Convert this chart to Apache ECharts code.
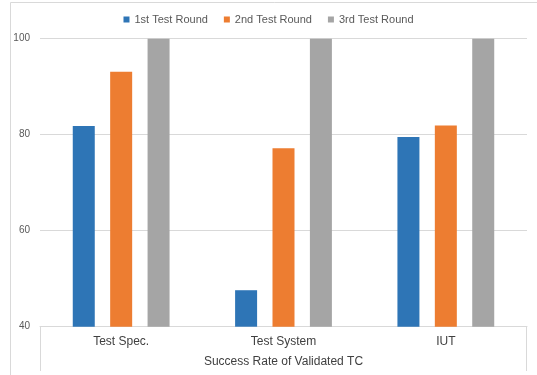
<!DOCTYPE html>
<html>
<head>
<meta charset="utf-8">
<script src="https://cdn.jsdelivr.net/npm/echarts@6/dist/echarts.min.js"></script>
<style>
  html, body { margin: 0; padding: 0; background: #fff; }
  #chart { width: 537px; height: 375px; }
</style>
</head>
<body>
<div id="chart"></div>
<script>
// Success rates per test target, one array per test round
const categories = ['Test Spec.', 'Test System', 'IUT'];
const round1 = [81.8, 47.6, 79.5];
const round2 = [93.1, 77.2, 81.9];
const round3 = [100, 100, 100];
const seriesNames = ['1st Test Round', '2nd Test Round', '3rd Test Round'];
const yTicks = { min: 40, max: 100, interval: 20 };

const colors = ['#2e75b6', '#ed7d31', '#a5a5a5'];
const gridLine = '#d9d9d9';
const font = '"Liberation Sans", Arial, sans-serif';

const chart = echarts.init(document.getElementById('chart'), null, { renderer: 'canvas' });

const gridLeft = 40, gridRight = 10, gridTop = 38.7, gridBottom = 48.3;
const W = 537, H = 375;

function bar(name, data, color) {
  return {
    name: name,
    type: 'bar',
    data: data,
    barWidth: 22,
    barGap: '70%',
    itemStyle: { color: color },
    emphasis: { disabled: true }
  };
}

chart.setOption({
  animation: false,
  color: colors,
  textStyle: { fontFamily: font },
  legend: {
    top: 9,
    left: 'center',
    itemWidth: 6,
    itemHeight: 6,
    itemGap: 16,
    icon: 'rect',
    textStyle: { color: '#595959', fontSize: 11, fontFamily: font },
    data: seriesNames
  },
  grid: {
    left: gridLeft, right: gridRight, top: gridTop, bottom: gridBottom,
    containLabel: false, outerBoundsMode: 'none'
  },
  xAxis: {
    type: 'category',
    data: categories,
    name: 'Success Rate of Validated TC',
    nameLocation: 'middle',
    nameGap: 29,
    nameTextStyle: { color: '#404040', fontSize: 12, fontFamily: font },
    axisLine: { lineStyle: { color: gridLine, width: 1 } },
    axisTick: { show: false },
    axisLabel: { color: '#404040', fontSize: 12, margin: 9, fontFamily: font }
  },
  yAxis: {
    type: 'value',
    min: yTicks.min,
    max: yTicks.max,
    interval: yTicks.interval,
    axisLine: { show: false },
    axisTick: { show: false },
    axisLabel: { color: '#595959', fontSize: 10, margin: 10, fontFamily: font },
    splitLine: { lineStyle: { color: gridLine, width: 1 } }
  },
  series: [
    bar(seriesNames[0], round1, colors[0]),
    bar(seriesNames[1], round2, colors[1]),
    bar(seriesNames[2], round3, colors[2])
  ],
  graphic: [
    // chart area frame
    { type: 'rect', silent: true, shape: { x: 10.5, y: 2.5, width: 600, height: 400 },
      style: { fill: null, stroke: gridLine, lineWidth: 1 } },
    // category axis box sides
    { type: 'line', silent: true,
      shape: { x1: gridLeft + 0.5, y1: H - gridBottom, x2: gridLeft + 0.5, y2: H - 4 },
      style: { stroke: gridLine, lineWidth: 1 } },
    { type: 'line', silent: true,
      shape: { x1: W - gridRight - 0.5, y1: H - gridBottom, x2: W - gridRight - 0.5, y2: H - 4 },
      style: { stroke: gridLine, lineWidth: 1 } }
  ]
});
</script>
</body>
</html>
